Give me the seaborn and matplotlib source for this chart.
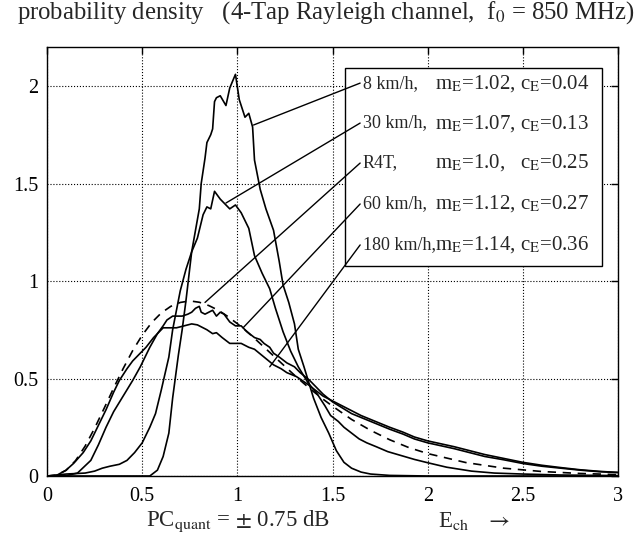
import numpy as np
import matplotlib.pyplot as plt
import seaborn as sns
from matplotlib.patches import Rectangle

# 8 km/h
x_8 = [0.00, 0.45, 0.54, 0.58, 0.61, 0.64, 0.66, 0.69, 0.71, 0.73, 0.76, 0.78, 0.80, 0.81,
       0.83, 0.84, 0.86, 0.87, 0.88, 0.89, 0.91, 0.94, 0.96, 0.99, 1.01, 1.04, 1.06, 1.08,
       1.09, 1.12, 1.15, 1.19, 1.22, 1.24, 1.27, 1.30, 1.32, 1.35, 1.40, 1.44, 1.48, 1.52,
       1.56, 1.60, 1.65, 1.70, 1.80, 2.00, 3.00]
y_8 = [0.0, 0.0, 0.0, 0.03, 0.10, 0.22, 0.40, 0.62, 0.75, 0.90, 1.15, 1.26, 1.37, 1.50,
       1.63, 1.71, 1.75, 1.78, 1.92, 1.94, 1.95, 1.90, 1.99, 2.06, 1.93, 1.84, 1.86, 1.79,
       1.62, 1.47, 1.37, 1.26, 1.10, 0.98, 0.89, 0.78, 0.65, 0.56, 0.40, 0.30, 0.22, 0.13,
       0.07, 0.04, 0.02, 0.01, 0.003, 0.0, 0.0]

# 30 km/h
x_30 = [0.00, 0.05, 0.10, 0.20, 0.25, 0.29, 0.33, 0.38, 0.42, 0.46, 0.50, 0.54, 0.57, 0.60,
        0.64, 0.66, 0.70, 0.73, 0.76, 0.79, 0.81, 0.82, 0.84, 0.86, 0.88, 0.91, 0.93, 0.96,
        0.99, 1.02, 1.06, 1.09, 1.13, 1.17, 1.20, 1.24, 1.28, 1.32, 1.37, 1.42, 1.46, 1.49,
        1.53, 1.56, 1.60, 1.64, 1.68, 1.73, 1.79, 1.86, 1.93, 2.00, 2.10, 2.23, 2.35, 2.50,
        2.70, 3.00]
y_30 = [0.0, 0.005, 0.01, 0.015, 0.025, 0.04, 0.05, 0.06, 0.08, 0.12, 0.17, 0.25, 0.32, 0.44,
        0.61, 0.75, 0.95, 1.06, 1.15, 1.22, 1.30, 1.34, 1.38, 1.37, 1.46, 1.42, 1.40, 1.37,
        1.39, 1.35, 1.27, 1.13, 1.04, 0.96, 0.86, 0.74, 0.64, 0.56, 0.48, 0.42, 0.36, 0.31,
        0.28, 0.25, 0.22, 0.19, 0.17, 0.15, 0.125, 0.105, 0.085, 0.068, 0.045, 0.025, 0.015, 0.01,
        0.005, 0.002]

# R4T (dashed)
x_r4t = [0.00, 0.05, 0.10, 0.15, 0.20, 0.25, 0.30, 0.35, 0.40, 0.45, 0.50, 0.55, 0.60, 0.65,
         0.70, 0.75, 0.80, 0.85, 0.90, 0.95, 1.00, 1.05, 1.10, 1.15, 1.20, 1.25, 1.30, 1.35,
         1.40, 1.45, 1.50, 1.60, 1.70, 1.80, 1.90, 2.00, 2.20, 2.40, 2.60, 2.80, 3.00]
y_r4t = [0.0, 0.004, 0.029, 0.079, 0.153, 0.245, 0.347, 0.451, 0.551, 0.643, 0.722, 0.787,
         0.836, 0.870, 0.890, 0.898, 0.891, 0.874, 0.850, 0.818, 0.781, 0.741, 0.697, 0.652,
         0.607, 0.562, 0.517, 0.474, 0.433, 0.394, 0.358, 0.290, 0.234, 0.186, 0.146, 0.115,
         0.069, 0.040, 0.023, 0.013, 0.007]

# 60 km/h
x_60 = [0.00, 0.10, 0.16, 0.23, 0.27, 0.31, 0.35, 0.40, 0.45, 0.49, 0.54, 0.58, 0.61, 0.63,
        0.66, 0.68, 0.71, 0.74, 0.76, 0.78, 0.80, 0.81, 0.83, 0.85, 0.87, 0.89, 0.91, 0.93,
        0.96, 0.99, 1.02, 1.05, 1.09, 1.12, 1.14, 1.17, 1.19, 1.22, 1.26, 1.30, 1.33, 1.38,
        1.42, 1.45, 1.50, 1.55, 1.60, 1.65, 1.70, 1.75, 1.80, 1.87, 1.93, 2.00, 2.07, 2.14,
        2.20, 2.30, 2.40, 2.50, 2.60, 2.70, 2.80, 2.90, 3.00]
y_60 = [0.0, 0.002, 0.015, 0.08, 0.16, 0.25, 0.33, 0.41, 0.49, 0.56, 0.66, 0.73, 0.77, 0.80,
        0.82, 0.82, 0.82, 0.83, 0.84, 0.86, 0.87, 0.84, 0.83, 0.84, 0.85, 0.82, 0.84, 0.83,
        0.79, 0.77, 0.77, 0.74, 0.71, 0.70, 0.68, 0.66, 0.63, 0.61, 0.58, 0.56, 0.53, 0.49,
        0.45, 0.42, 0.38, 0.35, 0.32, 0.30, 0.28, 0.26, 0.24, 0.215, 0.19, 0.17, 0.155, 0.14,
        0.125, 0.10, 0.083, 0.064, 0.05, 0.04, 0.03, 0.022, 0.018]

# 180 km/h
x_180 = [0.00, 0.05, 0.10, 0.14, 0.19, 0.23, 0.27, 0.31, 0.35, 0.38, 0.42, 0.45, 0.49, 0.52,
         0.56, 0.61, 0.64, 0.68, 0.72, 0.76, 0.79, 0.82, 0.84, 0.87, 0.89, 0.92, 0.96, 0.99,
         1.02, 1.06, 1.09, 1.14, 1.19, 1.23, 1.26, 1.31, 1.37, 1.41, 1.45, 1.50, 1.55, 1.60,
         1.65, 1.70, 1.75, 1.80, 1.87, 1.93, 2.00, 2.07, 2.14, 2.20, 2.30, 2.40, 2.50, 2.60,
         2.70, 2.80, 2.90, 3.00]
y_180 = [0.0, 0.003, 0.03, 0.065, 0.12, 0.18, 0.26, 0.34, 0.43, 0.49, 0.55, 0.59, 0.63, 0.66,
         0.71, 0.76, 0.76, 0.76, 0.77, 0.78, 0.775, 0.76, 0.75, 0.73, 0.735, 0.71, 0.68, 0.68,
         0.68, 0.66, 0.65, 0.61, 0.57, 0.55, 0.53, 0.51, 0.47, 0.44, 0.41, 0.385, 0.36, 0.335,
         0.31, 0.29, 0.27, 0.25, 0.225, 0.20, 0.18, 0.165, 0.15, 0.135, 0.11, 0.09, 0.07, 0.055,
         0.043, 0.032, 0.024, 0.018]

labels = ["8 km/h,", "30 km/h,", "R4T,", "60 km/h,", "180 km/h,"]
params = [r"m$_{\rm E}$=1.02, c$_{\rm E}$=0.04",
          r"m$_{\rm E}$=1.07, c$_{\rm E}$=0.13",
          r"m$_{\rm E}$=1.0,   c$_{\rm E}$=0.25",
          r"m$_{\rm E}$=1.12, c$_{\rm E}$=0.27",
          r"m$_{\rm E}$=1.14, c$_{\rm E}$=0.36"]
# point on each curve where the leader line starts
anchor_x = [1.085, 0.94, 0.83, 1.03, 1.17]
anchor_y = [1.80, 1.40, 0.89, 0.76, 0.56]

sns.set_style("white")
plt.rcParams['font.family'] = ['Liberation Serif', 'DejaVu Serif']
plt.rcParams['mathtext.fontset'] = 'stix'

fig = plt.figure(figsize=(6.39, 5.43), dpi=100)
ax = fig.add_axes([0.0736, 0.1234, 0.8936, 0.79])

for xs, ys in [(x_8, y_8), (x_30, y_30), (x_60, y_60), (x_180, y_180)]:
    sns.lineplot(x=xs, y=ys, color='black', lw=1.2, estimator=None, sort=False, ax=ax)
sns.lineplot(x=x_r4t, y=y_r4t, color='black', lw=1.2, estimator=None, sort=False,
             linestyle=(0, (5, 4)), ax=ax)

ax.set_xlim(0, 3)
ax.set_ylim(0, 2.2)
ax.set_xticks([0, 0.5, 1, 1.5, 2, 2.5, 3])
ax.set_xticklabels(["0", "0.5", "1", "1.5", "2", "2.5", "3"])
ax.set_yticks([0, 0.5, 1, 1.5, 2])
ax.set_yticklabels(["0", "0.5", "1", "1.5", "2"])
ax.tick_params(direction='in', length=5, width=1, top=True, right=True,
               labelsize=14.5, pad=6, colors='black')
ax.tick_params(axis='x', pad=8)
ax.grid(True, linestyle=':', color='black', linewidth=0.8)
for s in ax.spines.values():
    s.set_color('black')
    s.set_linewidth(1)

# legend box
ax.add_patch(Rectangle((1.568, 1.077), 1.348, 1.015, facecolor='white',
                       edgecolor='black', lw=1, zorder=3))
row_y = [2.015, 1.81, 1.605, 1.395, 1.185]
for i in range(5):
    ax.text(1.658, row_y[i], labels[i], fontsize=13, va='center', ha='left', zorder=4)
    ax.text(2.04, row_y[i], params[i], fontsize=15, va='center', ha='left', zorder=4)
    ax.annotate('', xy=(anchor_x[i], anchor_y[i]), xytext=(1.645, row_y[i]),
                arrowprops=dict(arrowstyle='-', color='black', lw=1,
                                shrinkA=0, shrinkB=0), zorder=4)

fig.text(0.51, 0.976, r"probability density   (4-Tap Rayleigh channel,  f$_0$ = 850 MHz)",
         fontsize=17.8, ha='center', va='center')
fig.text(0.372, 0.04, r"PC$_{\rm quant}$ = $\pm$ 0.75 dB", fontsize=16.5, ha='center', va='center')
fig.text(0.742, 0.04, r"E$_{\rm ch}$   $\rightarrow$", fontsize=16.5, ha='center', va='center')

plt.savefig('out.png', dpi=100)
